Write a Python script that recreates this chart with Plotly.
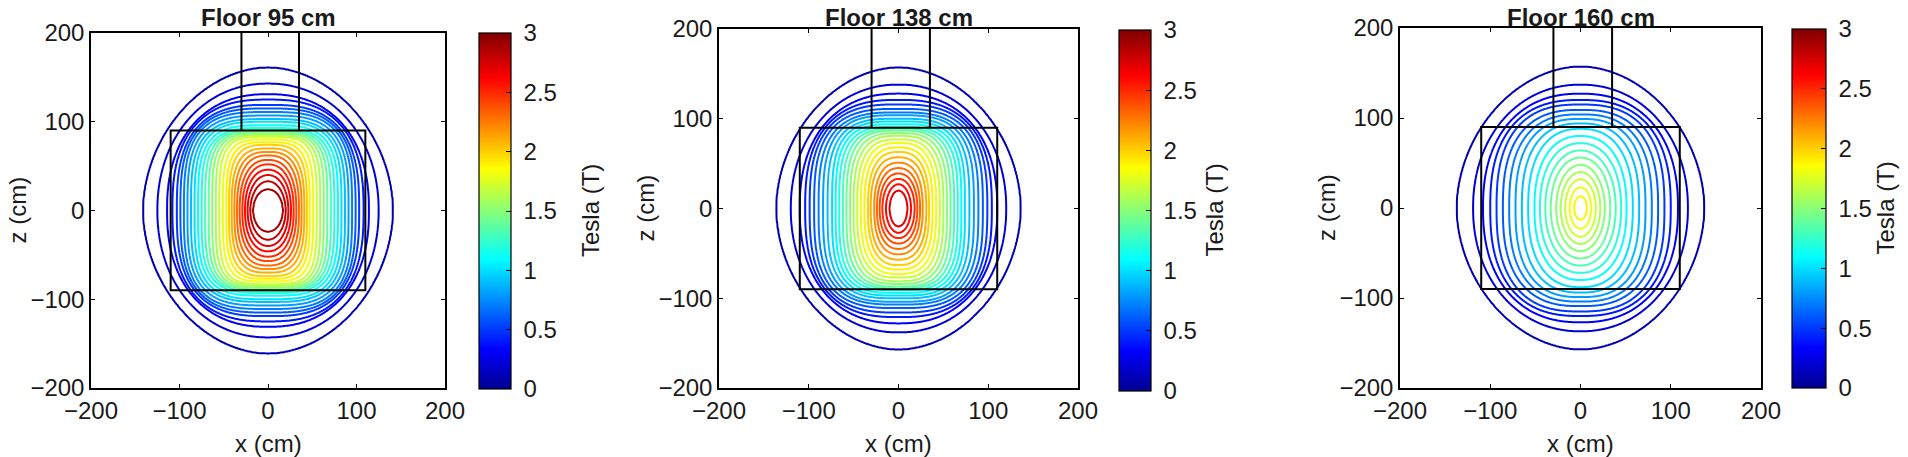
import numpy as np
import plotly.graph_objects as go

W, H = 1908, 457

# ---------------- data ----------------
titles = ["Floor 95 cm", "Floor 138 cm", "Floor 160 cm"]
cbar_title = "Tesla (T)"
x_title = "x (cm)"
z_title = "z (cm)"

# panel 1 : contour levels (T), half-width along x at z=0 (cm), half-height along z at x=0 (cm), shape exponent
levels_1 = [0.1, 0.2, 0.3, 0.4, 0.5, 0.6, 0.7, 0.8, 0.9, 1.0, 1.1, 1.2, 1.3, 1.4, 1.5,
            1.6, 1.7, 1.8, 1.9, 2.0, 2.1, 2.2, 2.3, 2.4, 2.5, 2.6, 2.7, 2.8, 2.9]
xhalf_1 = [141, 125, 114, 108, 103, 99, 95, 91, 87, 83, 79, 75, 71, 67, 63,
           59, 55, 51, 47, 44, 41, 38, 35, 32, 29, 26, 23, 20, 17]
zhalf_1 = [161, 143, 131, 125, 119, 115, 111, 107, 103, 100, 96, 93, 91, 89, 87,
           85, 83, 80, 77, 74, 70, 66, 62, 57, 52, 46, 40, 33, 24]
shape_1 = [1.9, 2.1, 2.3, 2.6, 2.8, 3.0, 3.2, 3.3, 3.4, 3.5, 3.6, 3.7, 3.8, 3.9, 4.0,
           4.0, 4.0, 3.8, 3.6, 3.3, 3.0, 2.8, 2.6, 2.4, 2.3, 2.2, 2.1, 2.0, 2.0]
peak_1 = 2.96

# panel 2
levels_2 = [0.1, 0.2, 0.3, 0.4, 0.5, 0.6, 0.7, 0.8, 0.9, 1.0, 1.1, 1.2, 1.3, 1.4,
            1.5, 1.6, 1.7, 1.8, 1.9, 2.0, 2.1, 2.2, 2.3, 2.4, 2.5, 2.6, 2.7]
xhalf_2 = [136, 120, 110, 104, 99, 94, 89, 84, 79, 74, 70, 66, 62, 58,
           54, 50, 46, 42, 38, 34, 31, 27, 24, 21, 18, 14, 10]
zhalf_2 = [157, 138, 128, 121, 116, 111, 107, 104, 100, 97, 94, 91, 89, 87,
           84, 81, 77, 73, 68, 63, 57, 51, 45, 39, 33, 27, 20]
shape_2 = [1.9, 2.1, 2.3, 2.6, 2.8, 3.0, 3.1, 3.2, 3.3, 3.4, 3.4, 3.4, 3.3, 3.2,
           3.1, 3.0, 2.9, 2.8, 2.7, 2.6, 2.5, 2.4, 2.3, 2.2, 2.1, 2.0, 2.0]
peak_2 = 2.76

# panel 3
levels_3 = [0.1, 0.2, 0.3, 0.4, 0.5, 0.6, 0.7, 0.8, 0.9, 1.0,
            1.1, 1.2, 1.3, 1.4, 1.5, 1.6, 1.7, 1.8, 1.9]
xhalf_3 = [137, 119, 108, 100, 93, 86, 79, 72, 65, 58, 51, 45, 39, 33, 27, 22, 17, 12, 7]
zhalf_3 = [157, 137, 127, 120, 115, 109, 104, 99, 94, 88, 80, 72, 64, 56, 48, 40, 32, 23, 13]
shape_3 = [1.9, 2.1, 2.3, 2.5, 2.6, 2.6, 2.6, 2.6, 2.5, 2.4, 2.3, 2.2, 2.1, 2.1,
           2.0, 2.0, 2.0, 2.0, 2.0]
peak_3 = 1.97

magnet_x = [-110, 110]
magnet_z = [-90, 90]
chimney_x = [-30, 35]
chimney_z = [90, 200]

axis_ticks = [-200, -100, 0, 100, 200]
cbar_ticks = [0, 0.5, 1, 1.5, 2, 2.5, 3]
cbar_text = ["0", "0.5", "1", "1.5", "2", "2.5", "3"]
cmin, cmax, cstep = 0, 3, 0.1

panels = [
    (levels_1, xhalf_1, zhalf_1, shape_1, peak_1),
    (levels_2, xhalf_2, zhalf_2, shape_2, peak_2),
    (levels_3, xhalf_3, zhalf_3, shape_3, peak_3),
]

# ---------------- layout geometry (pixels) ----------------
plot_px = [(91, 445, 33, 388), (719, 1078, 29, 388), (1400, 1761, 28, 388)]
cbar_px = [(479, 32, 33, 389), (1119, 32, 30, 391), (1792, 34, 29, 388)]
cbar_title_px = [590, 1214, 1885]

jet = [[0.0, "rgb(0,0,143)"], [0.111, "rgb(0,0,255)"], [0.365, "rgb(0,255,255)"],
       [0.619, "rgb(255,255,0)"], [0.873, "rgb(255,0,0)"], [1.0, "rgb(128,0,0)"]]

FONT = "Liberation Sans, Arial, Helvetica, sans-serif"
TXT = "#1a1a1a"
FS = 24
NBSP = "\u00a0"

gx = np.linspace(-200, 200, 401)
gz = np.linspace(-200, 200, 401)


def build_field(levels, xh, zh, pw, peak):
    L = np.asarray(levels, float)
    A = np.asarray(xh, float)[:, None, None]
    B = np.asarray(zh, float)[:, None, None]
    P = np.asarray(pw, float)[:, None, None]
    X, Z = np.meshgrid(gx, gz)
    G = (np.abs(X) / A) ** P + (np.abs(Z) / B) ** P
    G = np.maximum(G, 1e-9)
    lg = np.log(G)
    K = len(L)
    outside = G > 1
    k1 = np.where(outside.any(0), outside.argmax(0), K)
    val = np.empty(X.shape)
    m0 = k1 == 0
    val[m0] = L[0] / G[0][m0]
    mK = k1 == K
    val[mK] = L[-1] + (peak - L[-1]) * (1 - G[-1][mK])
    mid = ~(m0 | mK)
    iy, ix = np.nonzero(mid)
    kk1 = k1[mid]
    kk0 = kk1 - 1
    lg0 = lg[kk0, iy, ix]
    lg1 = lg[kk1, iy, ix]
    t = -lg0 / (lg1 - lg0)
    val[mid] = L[kk0] + t * (L[kk1] - L[kk0])
    return val


fig = go.Figure()
layout = dict(width=W, height=H, margin=dict(l=0, r=0, t=0, b=0, autoexpand=False),
              paper_bgcolor="white", plot_bgcolor="white", showlegend=False,
              font=dict(family=FONT, color=TXT, size=FS), template="none")
annotations = []
shapes = []


def txt(text, x, y, angle=0, bold=False):
    return dict(text=("<b>%s</b>" % text) if bold else text, x=x, y=y,
                xref="paper", yref="paper", showarrow=False, textangle=angle,
                xanchor="center", yanchor="middle",
                font=dict(size=FS, family=FONT, color=TXT))


for i, (lev, xh, zh, pw, pk) in enumerate(panels):
    n = i + 1
    sfx = "" if n == 1 else str(n)
    xa, ya = "x" + sfx, "y" + sfx
    x0, x1, y0, y1 = plot_px[i]
    zfield = build_field(lev, xh, zh, pw, pk)
    # contour levels span the full colour range so line colours map onto 0..3 T
    fig.add_trace(go.Contour(
        x=gx, y=gz, z=zfield, xaxis=xa, yaxis=ya,
        autocontour=False,
        contours=dict(start=cmin, end=cmax, size=cstep, coloring="lines"),
        colorscale=jet, zmin=cmin, zmax=cmax, showscale=False,
        line=dict(width=2), hoverinfo="skip"))
    cx, cth, cy0, cy1 = cbar_px[i]
    fig.add_trace(go.Scatter(
        x=[None], y=[None], mode="markers", xaxis=xa, yaxis=ya,
        marker=dict(color=[0], colorscale=jet, cmin=cmin, cmax=cmax, showscale=True,
                    colorbar=dict(
                        x=cx / W, xanchor="left", xpad=0,
                        y=1 - cy0 / H, yanchor="top", ypad=0,
                        len=(cy1 - cy0) / H, lenmode="fraction",
                        thickness=cth, thicknessmode="pixels",
                        outlinewidth=1.2, outlinecolor="black",
                        ticks="inside", ticklen=5, tickcolor="black",
                        tickvals=cbar_ticks, ticktext=[NBSP + t for t in cbar_text],
                        tickfont=dict(size=FS, family=FONT, color=TXT)))))
    axcommon = dict(range=[-200, 200], tickvals=axis_ticks, ticks="inside", ticklen=4,
                    tickcolor="black", showline=True, linecolor="black", linewidth=1.5,
                    mirror="ticks", showgrid=False, zeroline=False, automargin=False,
                    tickfont=dict(size=FS, family=FONT, color=TXT))
    layout["xaxis" + sfx] = dict(axcommon, domain=[x0 / W, x1 / W], anchor=ya)
    layout["yaxis" + sfx] = dict(axcommon, domain=[1 - y1 / H, 1 - y0 / H], anchor=xa)
    xc = (x0 + x1) / 2 / W
    ymid = 1 - ((y0 + y1) / 2) / H
    annotations.append(txt(titles[i], xc, 1 - 18 / H, bold=True))
    annotations.append(txt(x_title, xc, 1 - 443 / H))
    annotations.append(txt(z_title, (x0 - 74) / W, ymid, angle=-90))
    annotations.append(txt(cbar_title, cbar_title_px[i] / W, 1 - ((cy0 + cy1) / 2) / H, angle=-90))
    shapes.append(dict(type="rect", xref=xa, yref=ya, x0=magnet_x[0], x1=magnet_x[1],
                       y0=magnet_z[0], y1=magnet_z[1], line=dict(color="black", width=2),
                       layer="above"))
    for cxv in chimney_x:
        shapes.append(dict(type="line", xref=xa, yref=ya, x0=cxv, x1=cxv,
                           y0=chimney_z[0], y1=chimney_z[1],
                           line=dict(color="black", width=2), layer="above"))

layout["annotations"] = annotations
layout["shapes"] = shapes
fig.update_layout(**layout)
fig.write_html("out.html", config={"displayModeBar": False},
               post_script="document.body.style.margin='0px';")
